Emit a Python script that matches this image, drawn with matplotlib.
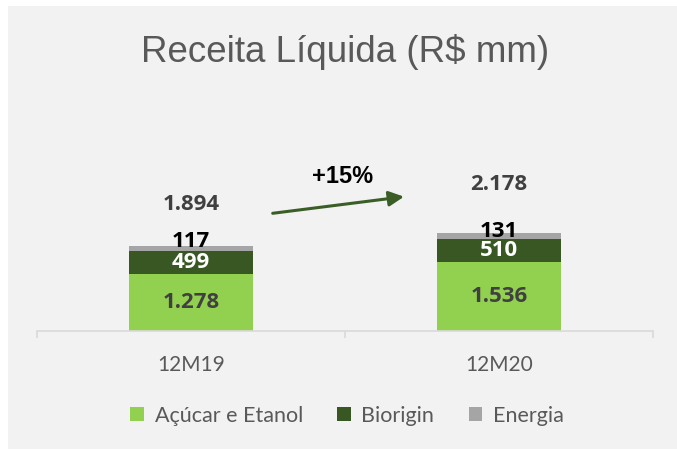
import matplotlib
matplotlib.use("Agg")
import matplotlib.pyplot as plt
from matplotlib.patches import Rectangle
import numpy as np

categories = ["12M19", "12M20"]
acucar_etanol = [1278, 1536]
biorigin = [499, 510]
energia = [117, 131]
totals = [1894, 2178]
series_names = ["Açúcar e Etanol", "Biorigin", "Energia"]
colors = ["#92d050", "#385723", "#a5a5a5"]
label_colors = ["#404040", "#ffffff", "#000000"]
title = "Receita Líquida (R$ mm)"

W, H = 677, 449
DPI = 100
fig = plt.figure(figsize=(W / DPI, H / DPI), dpi=DPI, facecolor="white")

# light gray panel
fig.patches.append(Rectangle((8 / W, 0), 1, 1 - 6 / H, transform=fig.transFigure,
                             facecolor="#f2f2f2", edgecolor="none", zorder=-10))

ax_l, ax_r, ax_b, ax_t = 37, 653, 331, 100
ax = fig.add_axes([ax_l / W, (H - ax_b) / H, (ax_r - ax_l) / W, (ax_b - ax_t) / H])
ax.set_facecolor("none")

px_per_unit = 22.3
ax.set_ylim(0, (ax_b - ax_t) * px_per_unit)
ax.set_xlim(-0.5, len(categories) - 0.5)

BOLD_FONT = ["Open Sans", "DejaVu Sans"]
VAL_SIZE = 16


def fmt(v):
    return f"{v:,}".replace(",", ".")


x = np.arange(len(categories))
series = [acucar_etanol, biorigin, energia]
bottom = np.zeros(len(categories))
bw = 0.4
for i, (vals, c) in enumerate(zip(series, colors)):
    vals = np.array(vals)
    ax.bar(x, vals, bw, bottom=bottom, color=c, edgecolor="none", zorder=2)
    for xi, b, v in zip(x, bottom, vals):
        if i < 2:
            ax.text(xi, b + v / 2, fmt(int(v)), ha="center", va="center",
                    fontsize=VAL_SIZE, fontweight="bold", color=label_colors[i],
                    family=BOLD_FONT, zorder=3)
        else:
            ax.annotate(fmt(int(v)), (xi, b + v), xytext=(0, 5 if xi == 0 else 2),
                        textcoords="offset pixels", ha="center", va="center",
                        fontsize=VAL_SIZE, fontweight="bold", color=label_colors[i],
                        family=BOLD_FONT, zorder=3)
    bottom = bottom + vals

total_offsets_px = [42, 49]
for xi, b, t, off in zip(x, bottom, totals, total_offsets_px):
    ax.annotate(fmt(int(t)), (xi, b), xytext=(0, off), textcoords="offset pixels",
                ha="center", va="center", fontsize=VAL_SIZE, fontweight="bold",
                color="#404040", family=BOLD_FONT)

# growth arrow
growth = totals[1] / totals[0] - 1
ax.annotate("", xy=((404 - ax_l) / (ax_r - ax_l), (ax_b - 196.7) / (ax_b - ax_t)),
            xytext=((272.7 - ax_l) / (ax_r - ax_l), (ax_b - 213.3) / (ax_b - ax_t)),
            xycoords="axes fraction", textcoords="axes fraction",
            arrowprops=dict(arrowstyle="-|>,head_length=0.9,head_width=0.45",
                            color="#3b5e27", lw=2.2, shrinkA=0, shrinkB=0))
ax.text((343 - ax_l) / (ax_r - ax_l), (ax_b - 176.5) / (ax_b - ax_t),
        f"+{growth * 100:.0f}%", transform=ax.transAxes, ha="center", va="center",
        fontsize=17, fontweight="bold", color="#000000", family="Liberation Sans")

# axes styling
for s in ["top", "left", "right"]:
    ax.spines[s].set_visible(False)
ax.spines["bottom"].set_color("#d9d9d9")
ax.spines["bottom"].set_linewidth(1.2)
ax.set_yticks([])
ax.set_xticks(x)
ax.set_xticklabels(categories, family="Lato", fontsize=15, color="#595959")
ax.tick_params(axis="x", which="major", length=0, pad=17)
ax.set_xticks(np.arange(-0.5, len(categories)), minor=True)
ax.tick_params(axis="x", which="minor", length=5, width=1.2, color="#d9d9d9", direction="out")

fig.text(345.5 / W, 1 - 61.7 / H, title, ha="center", va="baseline",
         fontsize=26.5, color="#595959", family="Liberation Sans")

handles = [Rectangle((0, 0), 1, 1, facecolor=c, edgecolor="none") for c in colors]
fig.legend(handles, series_names, loc="center", bbox_to_anchor=(347 / W, 1 - 415.5 / H),
           ncol=3, frameon=False, prop=dict(family="Lato", size=15.5),
           labelcolor="#595959", handlelength=0.62, handleheight=0.62,
           handletextpad=0.5, columnspacing=1.6)

fig.savefig("out.png", dpi=DPI, facecolor=fig.get_facecolor())
